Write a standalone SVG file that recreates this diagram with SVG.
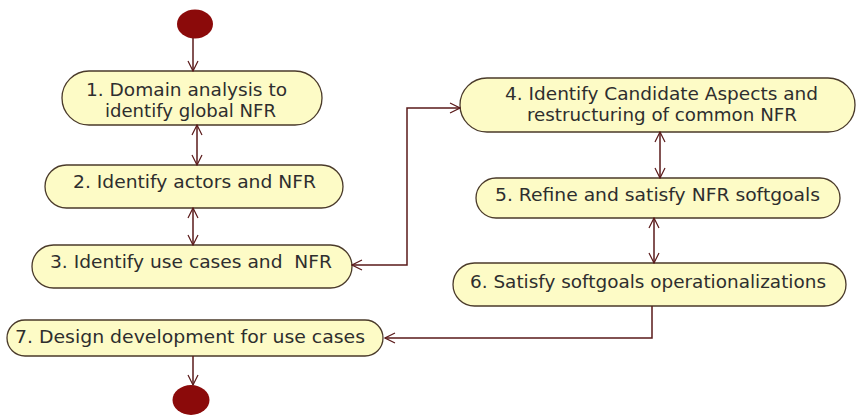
<svg xmlns="http://www.w3.org/2000/svg" width="856" height="416" viewBox="0 0 856 416">
  <style>
    .act { fill: #fdfbc6; stroke: #4a3a2a; stroke-width: 1.3; }
    .lbl { font-family: "DejaVu Sans", Verdana, sans-serif; font-size: 17px; fill: #2e2e2e; text-anchor: middle; white-space: pre; }
    .flow { fill: none; stroke: #5a1a1a; stroke-width: 1.5; }
    .dot { fill: #8b0a0a; }
  </style>
  <defs>
    <marker id="open" viewBox="0 0 12 12" refX="11" refY="6" markerWidth="12" markerHeight="12" markerUnits="userSpaceOnUse" orient="auto-start-reverse">
      <path d="M1 1 L11 6 L1 11" fill="none" stroke="#5a1a1a" stroke-width="1.2"/>
    </marker>
  </defs>
  <rect width="856" height="416" fill="#ffffff"/>

  <g id="start"><ellipse class="dot" cx="195" cy="24" rx="18" ry="14.5"/></g>

  <g id="n1">
    <rect class="act" x="62" y="71" width="260" height="54" rx="27"/>
    <text class="lbl" x="186.5" y="96" textLength="201" lengthAdjust="spacingAndGlyphs">1. Domain analysis to</text>
    <text class="lbl" x="190.5" y="117" textLength="171" lengthAdjust="spacingAndGlyphs">identify global NFR</text>
  </g>
  <g id="n2">
    <rect class="act" x="45" y="165" width="298" height="43" rx="21.5"/>
    <text class="lbl" x="194.5" y="188" textLength="243" lengthAdjust="spacingAndGlyphs">2. Identify actors and NFR</text>
  </g>
  <g id="n3">
    <rect class="act" x="32" y="245" width="320" height="43" rx="21.5"/>
    <text class="lbl" x="191" y="268" textLength="282" lengthAdjust="spacingAndGlyphs">3. Identify use cases and  NFR</text>
  </g>
  <g id="n4">
    <rect class="act" x="460" y="78" width="395" height="54" rx="27"/>
    <text class="lbl" x="661.5" y="100" textLength="313" lengthAdjust="spacingAndGlyphs">4. Identify Candidate Aspects and</text>
    <text class="lbl" x="662" y="121" textLength="270" lengthAdjust="spacingAndGlyphs">restructuring of common NFR</text>
  </g>
  <g id="n5">
    <rect class="act" x="476" y="178" width="364" height="40" rx="20"/>
    <text class="lbl" x="657.5" y="201" textLength="325" lengthAdjust="spacingAndGlyphs">5. Refine and satisfy NFR softgoals</text>
  </g>
  <g id="n6">
    <rect class="act" x="453" y="263" width="393" height="43" rx="21.5"/>
    <text class="lbl" x="648" y="288" textLength="356" lengthAdjust="spacingAndGlyphs">6. Satisfy softgoals operationalizations</text>
  </g>
  <g id="n7">
    <rect class="act" x="7" y="320" width="376" height="36" rx="18"/>
    <text class="lbl" x="190" y="343" textLength="350" lengthAdjust="spacingAndGlyphs">7. Design development for use cases</text>
  </g>

  <g id="end"><ellipse class="dot" cx="191" cy="400" rx="18.5" ry="15"/></g>

  <g id="connectors">
    <path class="flow" d="M193 38 V71" marker-end="url(#open)"/>
    <path class="flow" d="M197 125 V165" marker-start="url(#open)" marker-end="url(#open)"/>
    <path class="flow" d="M193 208 V245" marker-start="url(#open)" marker-end="url(#open)"/>
    <path class="flow" d="M352 265 H407 V108 H460" marker-start="url(#open)" marker-end="url(#open)"/>
    <path class="flow" d="M660 132 V178" marker-start="url(#open)" marker-end="url(#open)"/>
    <path class="flow" d="M654 218 V263" marker-start="url(#open)" marker-end="url(#open)"/>
    <path class="flow" d="M652 306 V338 H385" marker-end="url(#open)"/>
    <path class="flow" d="M193 356 V385" marker-end="url(#open)"/>
  </g>
</svg>
